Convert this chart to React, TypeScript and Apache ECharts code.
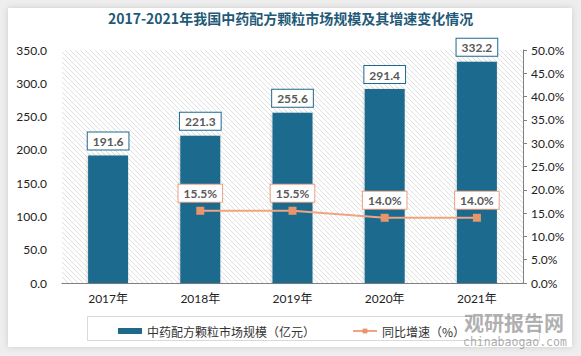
import React, { useEffect, useRef } from "react";
import * as echarts from "echarts";

const title = "2017-2021年我国中药配方颗粒市场规模及其增速变化情况";
const categories = ["2017年", "2018年", "2019年", "2020年", "2021年"];
const marketSize = [191.6, 221.3, 255.6, 291.4, 332.2];
const growth: (number | null)[] = [null, 15.5, 15.5, 14.0, 14.0];
const barName = "中药配方颗粒市场规模（亿元）";
const lineName = "同比增速（%）";

function makeHatch() {
  const c = document.createElement("canvas");
  const s = 5;
  c.width = s;
  c.height = s;
  const ctx = c.getContext("2d")!;
  ctx.fillStyle = "#ffffff";
  ctx.fillRect(0, 0, s, s);
  ctx.strokeStyle = "#e0e0e0";
  ctx.lineWidth = 1;
  ctx.beginPath();
  ctx.moveTo(-1, -1);
  ctx.lineTo(s + 1, s + 1);
  ctx.moveTo(-1, s - 1);
  ctx.lineTo(1, s + 1);
  ctx.moveTo(s - 1, -1);
  ctx.lineTo(s + 1, 1);
  ctx.stroke();
  return c;
}

export default function App() {
  const ref = useRef<HTMLDivElement>(null);
  useEffect(() => {
    if (!ref.current) return;
    const chart = echarts.init(ref.current, null, { renderer: "svg" });
    const hatch = makeHatch();
    const font = "Lato, 'Noto Sans CJK SC', sans-serif";
    chart.setOption({
      animation: false,
      backgroundColor: "#eeeeee",
      textStyle: { fontFamily: font },
      graphic: [
        {
          type: "rect",
          shape: { x: 8, y: 8, width: 564, height: 339 },
          style: { fill: "#ffffff", shadowBlur: 6, shadowColor: "rgba(0,0,0,0.15)" },
          z: -10,
        },
        {
          type: "rect",
          shape: { x: 87.5, y: 316.5, width: 452, height: 24 },
          style: { fill: "#ffffff", stroke: "#d9d9d9", lineWidth: 1 },
          z: -5,
        },
        {
          type: "text",
          left: 464,
          top: 312,
          style: {
            text: "观研报告网",
            font: "bold 20px 'Noto Sans CJK SC'",
            fill: "rgba(150,150,150,0.75)",
          },
          z: 20,
        },
        {
          type: "text",
          left: 463,
          top: 336,
          style: {
            text: "chinabaogao.com",
            font: "11.5px 'DejaVu Sans Mono', monospace",
            fill: "rgba(150,150,150,0.8)",
          },
          z: 20,
        },
      ],
      title: {
        text: title,
        left: "center",
        top: 6,
        textStyle: {
          fontSize: 14,
          fontWeight: "bold",
          color: "#1f5a78",
          fontFamily: "'Noto Sans CJK SC', sans-serif",
        },
      },
      legend: {
        left: 113,
        top: 320,
        itemGap: 37,
        itemWidth: 24,
        itemHeight: 6,
        textStyle: { fontSize: 12, color: "#333", fontFamily: "'Noto Sans CJK SC', sans-serif" },
        data: [
          { name: barName, icon: "rect" },
          { name: lineName },
        ],
      },
      grid: {
        left: 62,
        right: 58,
        top: 50,
        bottom: 73,
        show: true,
        borderWidth: 0,
        backgroundColor: { image: hatch, repeat: "repeat", imageWidth: 5, imageHeight: 5 } as any,
      },
      xAxis: {
        type: "category",
        data: categories,
        axisLine: { show: true, lineStyle: { color: "#808080", width: 1 } },
        axisTick: { show: false },
        axisLabel: { color: "#222", fontSize: 12, margin: 9, fontFamily: font },
      },
      yAxis: [
        {
          type: "value",
          min: 0,
          max: 350,
          interval: 50,
          axisLine: { show: false },
          axisTick: { show: false },
          splitLine: { show: false },
          axisLabel: {
            color: "#222",
            fontSize: 12,
            margin: 15,
            formatter: (v: number) => v.toFixed(1),
          },
        },
        {
          type: "value",
          min: 0,
          max: 50,
          interval: 5,
          position: "right",
          axisLine: { show: true, lineStyle: { color: "#808080" } },
          axisTick: { show: true, length: 4, lineStyle: { color: "#808080" } },
          splitLine: { show: false },
          axisLabel: {
            color: "#222",
            fontSize: 12,
            margin: 8,
            formatter: (v: number) => v.toFixed(1) + "%",
          },
        },
      ],
      series: [
        {
          name: barName,
          type: "bar",
          data: marketSize,
          barWidth: 40,
          itemStyle: {
            color: "#1d6a8d",
            shadowBlur: 3,
            shadowColor: "rgba(0,0,0,0.15)",
            shadowOffsetX: -1,
          },
          label: {
            show: true,
            position: "top",
            distance: 6,
            backgroundColor: "#ffffff",
            borderColor: "#1d6a8d",
            borderWidth: 1,
            padding: [3, 5, 2, 5],
            color: "#595959",
            fontWeight: "bold",
            fontSize: 12,
            formatter: (p: any) => Number(p.value).toFixed(1),
          },
        },
        {
          name: lineName,
          type: "line",
          yAxisIndex: 1,
          data: growth,
          symbol: "rect",
          symbolSize: 8,
          lineStyle: { color: "#f0a47f", width: 2 },
          itemStyle: { color: "#e9956c" },
          label: {
            show: true,
            position: "top",
            distance: 5,
            backgroundColor: "#ffffff",
            borderColor: "#e9a283",
            borderWidth: 1,
            padding: [3, 5, 2, 5],
            color: "#595959",
            fontWeight: "bold",
            fontSize: 12,
            formatter: (p: any) => Number(p.value).toFixed(1) + "%",
          },
        },
      ],
    });
    return () => chart.dispose();
  }, []);
  return (
    <div
      ref={ref}
      style={{ position: "fixed", left: 0, top: 0, width: 581, height: 356 }}
    />
  );
}
